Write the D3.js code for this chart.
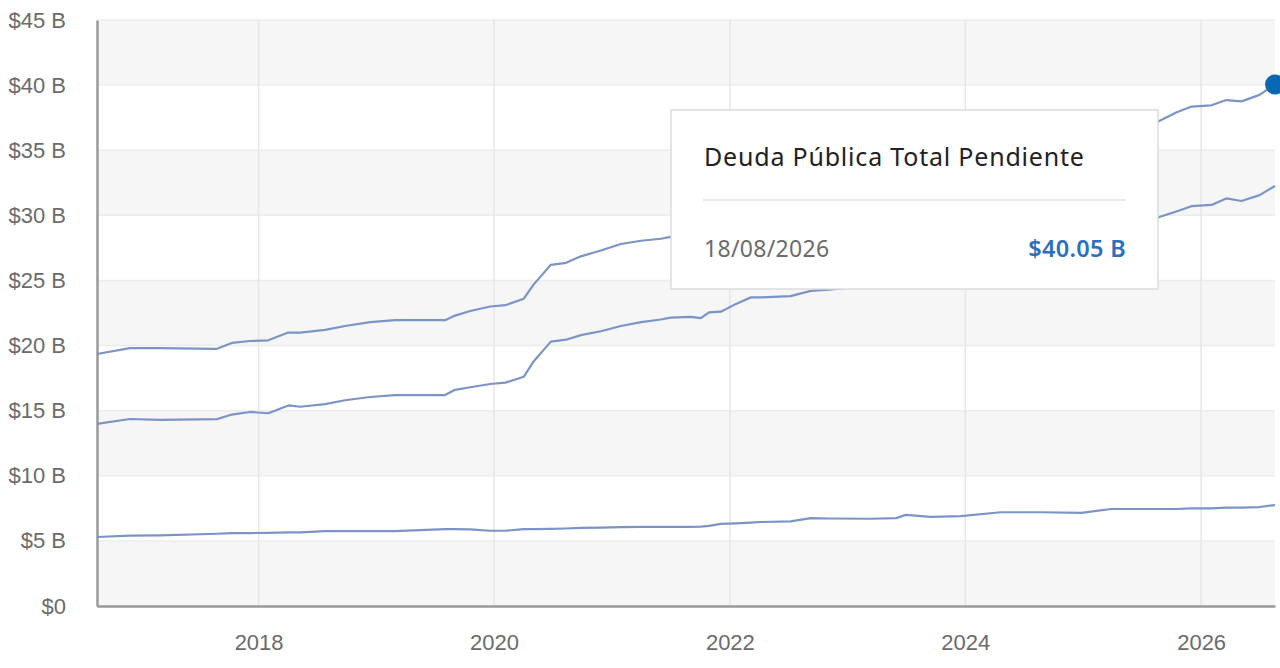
<!DOCTYPE html>
<html>
<head>
<meta charset="utf-8">
<script src="https://cdn.jsdelivr.net/npm/d3@7"></script>
<style>
  body { margin: 0; background: #fff; }
  .axis text { font-family: "Liberation Sans", Arial, sans-serif; font-size: 22px; fill: #6b6b6b; }
  .tip-title { font-family: "Noto Sans", sans-serif; font-size: 25px; letter-spacing: 0.8px; fill: #222; }
  .tip-date { font-family: "Noto Sans", sans-serif; font-size: 23px; letter-spacing: 0.3px; fill: #6b6b6b; }
  .tip-value { font-family: "Noto Sans", sans-serif; font-size: 23.5px; font-weight: 600; letter-spacing: 0.3px; fill: #2c6fbf; }
</style>
</head>
<body>
<div class="chart"></div>
<script>
// Data (billions)
const dates = [
  "2016-08-18", "2016-11-28", "2017-03-01", "2017-08-25", "2017-10-10", "2017-12-05",
  "2018-01-31", "2018-04-03", "2018-05-10", "2018-07-26", "2018-09-26", "2018-12-13",
  "2019-02-28", "2019-08-02", "2019-09-02", "2019-10-19", "2019-12-20", "2020-02-05",
  "2020-04-02", "2020-05-03", "2020-06-25", "2020-08-11", "2020-09-26", "2020-11-27",
  "2021-01-28", "2021-04-01", "2021-06-01", "2021-07-01", "2021-09-02", "2021-10-03",
  "2021-10-28", "2021-12-04", "2022-01-20", "2022-03-07", "2022-04-07", "2022-07-08",
  "2022-09-09", "2022-11-04", "2023-03-15", "2023-06-01", "2023-06-30", "2023-09-16",
  "2023-12-18", "2024-04-20", "2024-08-23", "2024-12-26", "2025-03-28", "2025-06-29",
  "2025-08-24", "2025-10-16", "2025-12-02", "2026-02-02", "2026-03-20", "2026-05-06",
  "2026-07-01", "2026-08-18"
]

const totalDebt = [
  19.35, 19.8, 19.8, 19.75, 20.2, 20.35,
  20.4, 21.0, 21.0, 21.2, 21.5, 21.8,
  21.95, 21.95, 22.3, 22.65, 23.0, 23.1,
  23.6, 24.7, 26.2, 26.35, 26.85, 27.3,
  27.8, 28.05, 28.2, 28.35, 28.3, 28.2,
  28.7, 28.9, 29.6, 30.1, 30.15, 30.3,
  30.95, 31.0, 31.3, 31.35, 32.5, 32.85,
  33.6, 34.6, 35.2, 35.85, 36.25, 36.25,
  37.25, 37.9, 38.35, 38.45, 38.85, 38.75,
  39.25, 40.05
]

const publicDebt = [
  13.98, 14.36, 14.3, 14.35, 14.7, 14.9,
  14.8, 15.4, 15.3, 15.5, 15.8, 16.05,
  16.2, 16.2, 16.6, 16.8, 17.05, 17.15,
  17.6, 18.8, 20.3, 20.45, 20.8, 21.1,
  21.5, 21.8, 22.0, 22.15, 22.2, 22.1,
  22.55, 22.6, 23.2, 23.7, 23.7, 23.8,
  24.2, 24.3, 24.6, 24.6, 25.5, 26.0,
  26.7, 27.4, 28.0, 28.7, 28.8, 28.8,
  29.87, 30.3, 30.7, 30.8, 31.3, 31.1,
  31.55, 32.25
]

const intragovDebt = [
  5.3, 5.4, 5.42, 5.55, 5.6, 5.6,
  5.62, 5.65, 5.65, 5.75, 5.75, 5.75,
  5.75, 5.9, 5.9, 5.88, 5.78, 5.78,
  5.9, 5.9, 5.92, 5.95, 6.0, 6.02,
  6.05, 6.07, 6.07, 6.07, 6.07, 6.1,
  6.15, 6.3, 6.35, 6.4, 6.45, 6.5,
  6.75, 6.72, 6.7, 6.75, 7.0, 6.85,
  6.9, 7.2, 7.2, 7.15, 7.45, 7.45,
  7.45, 7.45, 7.5, 7.5, 7.55, 7.55,
  7.6, 7.75
]

const yTicks = [0, 5, 10, 15, 20, 25, 30, 35, 40, 45]

const tooltipTitle = "Deuda Pública Total Pendiente"
const tooltipDate = "18/08/2026"
const tooltipValue = "$40.05 B"

// Dimensions
let dimensions = {
  width: 1280,
  height: 668,
  margins: { top: 20, right: 5, bottom: 62, left: 97 }
}
dimensions.ctrWidth = dimensions.width - dimensions.margins.left - dimensions.margins.right
dimensions.ctrHeight = dimensions.height - dimensions.margins.top - dimensions.margins.bottom

const parseDate = d3.timeParse("%Y-%m-%d")
const parsed = dates.map(parseDate)

const svg = d3.select('.chart')
  .append('svg')
  .attr('width', dimensions.width)
  .attr('height', dimensions.height)

const ctr = svg.append('g')
  .attr('transform', `translate(${dimensions.margins.left}, ${dimensions.margins.top})`)

const xScale = d3.scaleTime()
  .domain(d3.extent(parsed))
  .range([0, dimensions.ctrWidth])

const yScale = d3.scaleLinear()
  .domain([0, 45])
  .range([dimensions.ctrHeight, 0])

// alternating bands, grey on 0-5, 10-15 ...
const bands = d3.pairs(yTicks).filter((d, i) => i % 2 === 0)
ctr.append('g')
  .selectAll('rect')
  .data(bands)
  .join('rect')
  .attr('x', 0)
  .attr('width', dimensions.ctrWidth)
  .attr('y', d => yScale(d[1]))
  .attr('height', d => yScale(d[0]) - yScale(d[1]))
  .attr('fill', '#f6f6f6')

// grid lines
ctr.append('g')
  .selectAll('line')
  .data(yTicks)
  .join('line')
  .attr('x1', 0)
  .attr('x2', dimensions.ctrWidth)
  .attr('y1', d => yScale(d))
  .attr('y2', d => yScale(d))
  .attr('stroke', '#ececec')
  .attr('stroke-width', 1.5)

const yearTicks = xScale.ticks(d3.timeYear.every(2))
ctr.append('g')
  .selectAll('line')
  .data(yearTicks)
  .join('line')
  .attr('x1', d => xScale(d))
  .attr('x2', d => xScale(d))
  .attr('y1', 0)
  .attr('y2', dimensions.ctrHeight)
  .attr('stroke', '#e6e6e6')
  .attr('stroke-width', 1.5)

// Axes
const yAxis = d3.axisLeft(yScale)
  .tickValues(yTicks)
  .tickSize(0)
  .tickPadding(31)
  .tickFormat(d => d === 0 ? '$0' : `$${d} B`)

const yAxisGroup = ctr.append('g')
  .classed('axis', true)
  .call(yAxis)
yAxisGroup.select('.domain').attr('stroke', '#9a9a9a').attr('stroke-width', 2.5)

const xAxis = d3.axisBottom(xScale)
  .tickValues(yearTicks)
  .tickSize(0)
  .tickPadding(28)
  .tickFormat(d3.timeFormat('%Y'))

const xAxisGroup = ctr.append('g')
  .classed('axis', true)
  .attr('transform', `translate(0, ${dimensions.ctrHeight})`)
  .call(xAxis)
xAxisGroup.select('.domain').attr('stroke', '#9a9a9a').attr('stroke-width', 2.5)

// Lines
const line = d3.line()
  .x((d, i) => xScale(parsed[i]))
  .y(d => yScale(d))

const series = [intragovDebt, publicDebt, totalDebt]
ctr.append('g')
  .selectAll('path')
  .data(series)
  .join('path')
  .attr('d', line)
  .attr('fill', 'none')
  .attr('stroke', '#7b94c8')
  .attr('stroke-width', 2.2)
  .attr('stroke-linejoin', 'round')

// highlighted last point
const last = totalDebt.length - 1
ctr.append('circle')
  .attr('cx', xScale(parsed[last]))
  .attr('cy', yScale(totalDebt[last]))
  .attr('r', 10)
  .attr('fill', '#0b67b2')

// Tooltip box
const tip = svg.append('g')
  .attr('transform', 'translate(671, 110)')

tip.append('rect')
  .attr('width', 487)
  .attr('height', 179)
  .attr('fill', '#fff')
  .attr('stroke', '#dcdcdc')
  .attr('stroke-width', 1.5)

tip.append('text')
  .classed('tip-title', true)
  .attr('x', 33)
  .attr('y', 56)
  .text(tooltipTitle)

tip.append('line')
  .attr('x1', 32)
  .attr('x2', 455)
  .attr('y1', 90)
  .attr('y2', 90)
  .attr('stroke', '#e0e0e0')
  .attr('stroke-width', 1.5)

tip.append('text')
  .classed('tip-date', true)
  .attr('x', 33)
  .attr('y', 147)
  .text(tooltipDate)

tip.append('text')
  .classed('tip-value', true)
  .attr('x', 455)
  .attr('y', 147)
  .attr('text-anchor', 'end')
  .text(tooltipValue)
</script>
</body>
</html>
